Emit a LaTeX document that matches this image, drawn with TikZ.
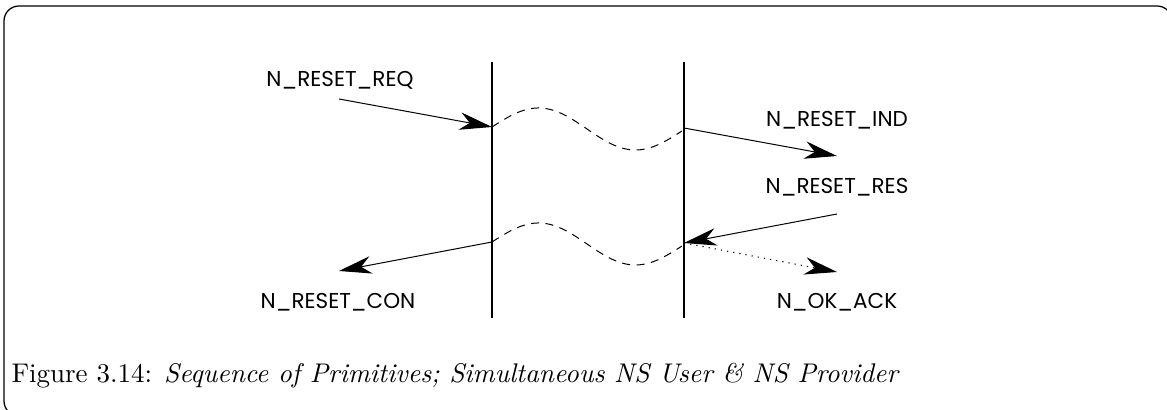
\documentclass[tikz,border=0pt]{standalone}
\usepackage{fontspec}
\newfontfamily\lblfont{Poppins}
\usetikzlibrary{arrows.meta}
\begin{document}
\begin{tikzpicture}[x=0.4pt,y=-0.4pt,
  lbl/.style={font=\lblfont\fontsize{8.6}{10}\selectfont, inner sep=0pt},
  life/.style={line width=0.8pt},
  msg/.style={line width=0.4pt, -{Stealth[length=13pt,width=7pt,inset=4pt]}},
  dotmsg/.style={msg, dash pattern=on 0.5pt off 2pt},
  wave/.style={line width=0.4pt, dash pattern=on 3.2pt off 2.6pt},
  frame/.style={line width=0.5pt, rounded corners=6pt}]
\useasboundingbox (0,0) rectangle (1167,410);
\begin{scope}
\clip (0,0) rectangle (1167,410);
\draw[frame] (4,6) rectangle (1172,416);
\end{scope}
% lifelines
\coordinate (Ltop) at (492,62);
\coordinate (Lbot) at (492,318);
\coordinate (Rtop) at (684,62);
\coordinate (Rbot) at (684,318);
\draw[life] (Ltop) -- (Lbot);
\draw[life] (Rtop) -- (Rbot);
% attachment points
\coordinate (Lreq) at (492,127);
\coordinate (Rind) at (684,128);
\coordinate (Rres) at (684,243);
\coordinate (Lcon) at (492,242);
% free ends
\coordinate (reqS) at (339,99);
\coordinate (indE) at (837,156);
\coordinate (resS) at (837,214);
\coordinate (ackE) at (837,272);
\coordinate (conE) at (339,271);
% labels
\node[lbl] (treq) at (340,80) {N\_RESET\_REQ};
\node[lbl] (tcon) at (338,302) {N\_RESET\_CON};
\node[lbl] (tind) at (837,120) {N\_RESET\_IND};
\node[lbl] (tres) at (837,187) {N\_RESET\_RES};
\node[lbl] (tack) at (837,302) {N\_OK\_ACK};
% messages
\draw[msg] (reqS) -- (Lreq);
\draw[msg] (Rind) -- (indE);
\draw[msg] (resS) -- (Rres);
\draw[dotmsg] (Rres) -- (ackE);
\draw[msg] (Lcon) -- (conE);
% waves
\draw[wave] plot[domain=0:1, samples=80] ({492+190*\x},{127+4*\x-20*sin(360*\x)});
\draw[wave] plot[domain=0:1, samples=80] ({492+190*\x},{242+4*\x-20*sin(360*\x)});
% caption
\node[anchor=base west, inner sep=0pt, font=\fontsize{10.8}{13}\selectfont] (cap) at (11,383)
  {Figure 3.14: \textit{Sequence of Primitives; Simultaneous NS User \& NS Provider}};
\end{tikzpicture}
\end{document}
